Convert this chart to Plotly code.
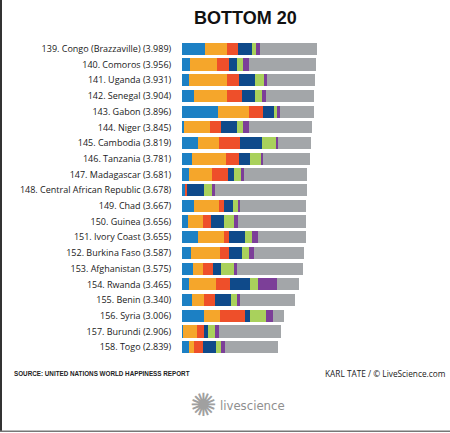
"""
Bottom 20 countries of the World Happiness Report, stacked by factor.
"""
import plotly.graph_objects as go

W, H = 450, 433

ranks = list(range(139, 159))
countries = [
    "Congo (Brazzaville)", "Comoros", "Uganda", "Senegal", "Gabon",
    "Niger", "Cambodia", "Tanzania", "Madagascar", "Central African Republic",
    "Chad", "Guinea", "Ivory Coast", "Burkina Faso", "Afghanistan",
    "Rwanda", "Benin", "Syria", "Burundi", "Togo",
]
scores = [3.989, 3.956, 3.931, 3.904, 3.896, 3.845, 3.819, 3.781, 3.681, 3.678,
          3.667, 3.656, 3.655, 3.587, 3.575, 3.465, 3.340, 3.006, 2.906, 2.839]

# factor contributions
gdp = [0.68, 0.24, 0.21, 0.36, 1.06, 0.07, 0.46, 0.29, 0.21, 0.08,
       0.34, 0.17, 0.47, 0.26, 0.32, 0.22, 0.29, 0.66, 0.02, 0.21]
social = [0.66, 0.79, 1.13, 0.98, 0.91, 0.77, 0.63, 1.00, 0.67, 0.00,
          0.76, 0.46, 0.77, 0.85, 0.30, 0.77, 0.35, 0.47, 0.42, 0.14]
health = [0.31, 0.36, 0.34, 0.44, 0.43, 0.30, 0.61, 0.38, 0.47, 0.07,
          0.15, 0.24, 0.15, 0.27, 0.30, 0.43, 0.32, 0.72, 0.22, 0.28]
freedom = [0.41, 0.23, 0.46, 0.37, 0.32, 0.48, 0.66, 0.33, 0.19, 0.49,
           0.24, 0.38, 0.47, 0.39, 0.23, 0.59, 0.48, 0.16, 0.12, 0.36]
generosity = [0.12, 0.17, 0.29, 0.21, 0.07, 0.19, 0.40, 0.34, 0.21, 0.24,
              0.18, 0.29, 0.20, 0.22, 0.37, 0.23, 0.18, 0.47, 0.20, 0.17]
corruption = [0.12, 0.20, 0.07, 0.11, 0.11, 0.16, 0.07, 0.06, 0.08, 0.08,
              0.05, 0.12, 0.18, 0.13, 0.10, 0.55, 0.08, 0.19, 0.10, 0.11]
residual = [round(s - (a + b + c + d + e + f), 3) for s, a, b, c, d, e, f in
            zip(scores, gdp, social, health, freedom, generosity, corruption)]

series = [
    ("GDP per capita", gdp, "#1c80c4"),
    ("Social support", social, "#f5a62b"),
    ("Healthy life expectancy", health, "#ee4f2a"),
    ("Freedom", freedom, "#0f4a8a"),
    ("Generosity", generosity, "#a9d15c"),
    ("Corruption", corruption, "#7c3f98"),
    ("Dystopia + residual", residual, "#a3a6a9"),
]

labels = [f"{r}. {c} ({s:.3f})" for r, c, s in zip(ranks, countries, scores)]

# plot area in pixels
L, R, T, B = 182, 10, 41, 78
PW, PH = W - L - R, H - T - B


def px(x):
    return (x - L) / PW


def py(y):
    return (H - B - y) / PH


def note(text, x, y, size, family, color="#222", xanchor="center"):
    fig.add_annotation(
        text=text, x=px(x), y=py(y), xref="paper", yref="paper",
        xanchor=xanchor, yanchor="middle", showarrow=False,
        font=dict(size=size, family=family, color=color),
    )


fig = go.Figure()
for name, vals, color in series:
    fig.add_trace(go.Bar(
        y=labels,
        x=vals,
        name=name,
        orientation="h",
        marker=dict(color=color, line=dict(width=0)),
    ))

fig.update_layout(
    width=W,
    height=H,
    barmode="stack",
    bargap=0.22,
    showlegend=False,
    plot_bgcolor="white",
    paper_bgcolor="white",
    margin=dict(l=L, r=R, t=T, b=B, pad=0),
    font=dict(family="Open Sans, sans-serif", color="#222"),
)
fig.update_xaxes(range=[0, PW / 33.9], visible=False)
fig.update_yaxes(
    autorange="reversed",
    showgrid=False,
    zeroline=False,
    showline=False,
    ticks="outside",
    ticklen=8,
    tickcolor="white",
    tickfont=dict(size=9, family="Open Sans, sans-serif", color="#1a1a1a"),
)

note("<b>BOTTOM 20</b>", 245, 18, 18, "Liberation Sans, Arial", "#111")
note("<b>SOURCE: UNITED NATIONS WORLD HAPPINESS REPORT</b>", 12, 373, 6.3,
     "Liberation Sans, Arial, sans-serif", xanchor="left")
note("KARL TATE / © LiveScience.com", 448, 373, 8.3, "Open Sans, sans-serif",
     xanchor="right")
# logo
note("✺", 203, 405, 32, "DejaVu Sans", "#a0a0a0")
note("livescience", 218, 405, 13, "DejaVu Sans Condensed, DejaVu Sans",
     "#8f8f8f", xanchor="left")

# frame: dark left edge, grey bottom edge
fig.add_shape(type="rect", xref="paper", yref="paper",
              x0=px(0), x1=px(2), y0=py(0), y1=py(432),
              fillcolor="#333", line=dict(width=0))
fig.add_shape(type="rect", xref="paper", yref="paper",
              x0=px(0), x1=px(450), y0=py(430.5), y1=py(432),
              fillcolor="#777", line=dict(width=0))

fig.write_html(
    "out.html",
    config={"displayModeBar": False},
    post_script="document.body.style.margin='0';document.body.style.overflow='hidden';",
)
